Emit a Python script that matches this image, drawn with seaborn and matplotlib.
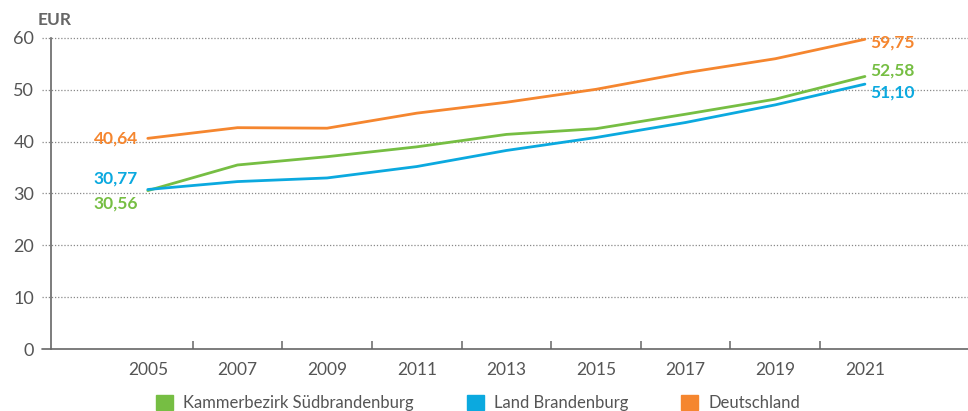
import matplotlib
matplotlib.use("Agg")
import matplotlib.pyplot as plt
from matplotlib.patches import Patch
import seaborn as sns
import pandas as pd
import numpy as np

years = ["2005", "2007", "2009", "2011", "2013", "2015", "2017", "2019", "2021"]
sued = [30.56, 35.5, 37.1, 39.0, 41.4, 42.5, 45.3, 48.2, 52.58]
brandenburg = [30.77, 32.3, 33.0, 35.2, 38.3, 40.8, 43.7, 47.1, 51.10]
deutschland = [40.64, 42.7, 42.6, 45.5, 47.6, 50.1, 53.3, 56.0, 59.75]
series_names = ["Kammerbezirk Südbrandenburg", "Land Brandenburg", "Deutschland"]
colors = ["#76BE43", "#0BA9DF", "#F5862F"]
y_ticks = [0, 10, 20, 30, 40, 50, 60]

sns.set_theme(style="white")
plt.rcParams["font.family"] = ["Lato", "DejaVu Sans"]

df = pd.DataFrame({
    "x": list(range(len(years))) * 3,
    "value": sued + brandenburg + deutschland,
    "series": [series_names[0]] * len(years) + [series_names[1]] * len(years) + [series_names[2]] * len(years),
})

fig = plt.figure(figsize=(9.68, 4.11), dpi=100)
ax = fig.add_axes([51 / 968, 1 - 349 / 411, 1 - 51 / 968, (349 - 38) / 411])

sns.lineplot(data=df, x="x", y="value", hue="series", palette=dict(zip(series_names, colors)),
             linewidth=2, ax=ax, legend=False, zorder=3)

ax.set_xlim(-1.08, 9.15)
ax.set_ylim(0, 60)
for s in ["top", "right"]:
    ax.spines[s].set_visible(False)
ax.spines["left"].set_color("#666666")
ax.spines["left"].set_linewidth(1.2)
ax.spines["bottom"].set_visible(False)

grid_col = "#888888"
for v in y_ticks[1:]:
    ax.axhline(v, xmin=-9 / 917, xmax=1, color=grid_col, linestyle=(0, (1, 1.5)), linewidth=0.9,
               clip_on=False, zorder=1)
ax.axhline(0, xmin=-9 / 917, xmax=1, color="#666666", linewidth=1.2, clip_on=False, zorder=2)

ax.set_yticks(y_ticks)
ax.set_yticklabels([str(v) for v in y_ticks], fontsize=13, color="#555555")
ax.tick_params(axis="y", length=0, pad=12)

ax.set_xticks(range(len(years)))
ax.set_xticklabels(years, fontsize=12.5, color="#555555")
ax.set_xticks(np.arange(0.5, len(years) - 1, 1.0), minor=True)
ax.tick_params(axis="x", which="major", bottom=True, length=0, pad=9)
ax.tick_params(axis="x", which="minor", bottom=True, direction="in", length=6, width=1.1,
               color="#666666")
ax.set_xlabel("")
ax.set_ylabel("")

fig.text(38 / 968, 1 - 20 / 411, "EUR", fontsize=12.5, fontweight="bold", color="#666666",
         va="center", ha="left")

# value labels
lab_kw = dict(fontsize=12.5, fontweight="bold", textcoords="offset points")
ax.annotate("40,64", (0, deutschland[0]), xytext=(-7, 0), ha="right", va="center", color=colors[2], **lab_kw)
ax.annotate("30,77", (0, brandenburg[0]), xytext=(-7, 8), ha="right", va="center", color=colors[1], **lab_kw)
ax.annotate("30,56", (0, sued[0]), xytext=(-7, -9), ha="right", va="center", color=colors[0], **lab_kw)
n = len(years) - 1
ax.annotate("59,75", (n, deutschland[-1]), xytext=(4, -2), ha="left", va="center", color=colors[2], **lab_kw)
ax.annotate("52,58", (n, sued[-1]), xytext=(4, 4), ha="left", va="center", color=colors[0], **lab_kw)
ax.annotate("51,10", (n, brandenburg[-1]), xytext=(4, -6), ha="left", va="center", color=colors[1], **lab_kw)

handles = [Patch(facecolor=c, edgecolor=c) for c in colors]
fig.legend(handles, series_names, loc="center", bbox_to_anchor=(0.494, 1 - 403 / 411), ncol=3,
           frameon=False, fontsize=12, handlelength=1.0, handleheight=1.0, handletextpad=0.6,
           columnspacing=3.2, labelcolor="#555555")

fig.savefig("out.png", dpi=100)
